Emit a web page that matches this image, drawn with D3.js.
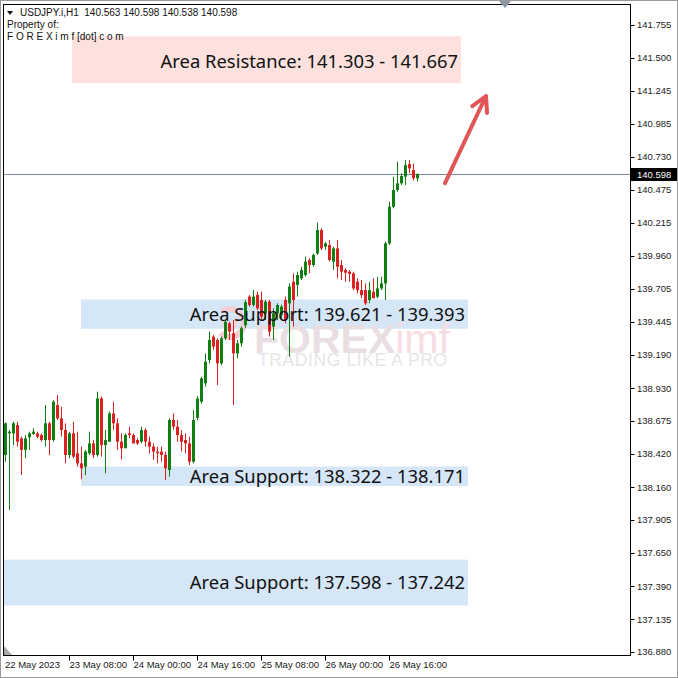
<!DOCTYPE html>
<html><head><meta charset="utf-8">
<script src="https://cdn.jsdelivr.net/npm/d3@7"></script>
<style>html,body{margin:0;padding:0;background:#fff}svg{display:block}</style>
</head><body><svg id="c" width="678" height="678"></svg>
<script>
// ---------- data ----------
const symbolHeader = "USDJPY.i,H1  140.563 140.598 140.538 140.598";
const startTime = "2023-05-22T16:00"; // first H1 bar
const open = [138.412,138.580,138.580,138.645,138.541,138.451,138.549,138.575,138.580,138.567,
138.528,138.658,138.528,138.800,138.697,138.606,138.412,138.580,138.425,138.347,
138.321,138.425,138.502,138.412,138.852,138.489,138.515,138.735,138.658,138.515,
138.464,138.580,138.567,138.528,138.515,138.606,138.515,138.477,138.438,138.438,
138.412,138.295,138.684,138.632,138.567,138.528,138.502,138.360,138.700,138.826,
138.969,139.150,139.332,139.306,139.124,139.319,139.435,139.358,139.202,139.280,
139.420,139.643,139.578,139.656,139.617,139.513,139.604,139.410,139.513,139.500,
139.617,139.591,139.759,139.734,139.785,139.811,139.928,139.889,139.979,140.161,
140.031,140.044,139.915,140.018,139.889,139.850,139.837,139.824,139.759,139.694,
139.694,139.617,139.681,139.642,139.707,139.746,140.057,140.342,140.472,140.524,
140.576,140.674,140.627,140.563];
const high = [138.665,138.606,138.671,138.671,138.554,138.567,138.593,138.619,138.593,138.580,
138.800,138.671,138.839,138.878,138.787,138.658,138.593,138.671,138.593,138.477,
138.451,138.593,138.528,138.904,138.865,138.606,138.749,138.826,138.697,138.580,
138.580,138.632,138.580,138.541,138.632,138.619,138.554,138.502,138.477,138.477,
138.438,138.697,138.735,138.684,138.606,138.580,138.554,138.761,138.870,139.020,
139.202,139.371,139.345,139.319,139.332,139.461,139.448,139.461,139.306,139.410,
139.620,139.656,139.695,139.682,139.682,139.617,139.617,139.552,139.591,139.580,
139.643,139.747,139.824,139.837,139.876,139.954,139.941,139.979,140.218,140.174,
140.070,140.083,140.031,140.083,139.928,139.863,139.850,139.837,139.785,139.772,
139.746,139.759,139.785,139.798,139.798,140.070,140.381,140.575,140.692,140.602,
140.705,140.705,140.679,140.598];
const low = [138.360,137.984,138.489,138.477,138.256,138.386,138.451,138.567,138.541,138.515,
138.477,138.412,138.515,138.684,138.554,138.347,138.386,138.386,138.321,138.223,
138.256,138.412,138.386,138.399,138.399,138.269,138.515,138.606,138.451,138.378,
138.464,138.541,138.502,138.489,138.502,138.477,138.425,138.373,138.347,138.360,
138.217,138.243,138.606,138.515,138.438,138.425,138.334,138.347,138.680,138.813,
138.943,139.124,139.228,138.956,139.111,139.306,139.306,138.800,139.163,139.254,
139.400,139.565,139.565,139.539,139.461,139.461,139.332,139.306,139.461,139.470,
139.435,139.176,139.410,139.643,139.772,139.798,139.824,139.876,139.967,140.005,
140.005,139.915,139.850,139.785,139.772,139.759,139.759,139.694,139.668,139.630,
139.578,139.591,139.630,139.630,139.694,139.617,140.044,140.329,140.459,140.511,
140.511,140.602,140.545,140.538];
const close = [138.658,138.593,138.658,138.515,138.451,138.541,138.580,138.593,138.554,138.528,
138.658,138.528,138.826,138.697,138.606,138.412,138.580,138.399,138.347,138.308,
138.438,138.502,138.412,138.852,138.489,138.528,138.735,138.658,138.515,138.464,
138.567,138.567,138.502,138.502,138.606,138.515,138.477,138.438,138.425,138.412,
138.308,138.684,138.632,138.567,138.515,138.502,138.360,138.684,138.850,139.008,
139.137,139.306,139.254,139.124,139.319,139.448,139.371,139.202,139.280,139.397,
139.600,139.578,139.643,139.552,139.487,139.604,139.371,139.513,139.578,139.565,
139.461,139.721,139.617,139.811,139.850,139.915,139.889,139.967,140.161,140.018,
140.057,139.928,140.018,139.876,139.837,139.829,139.819,139.707,139.694,139.655,
139.591,139.694,139.630,139.707,139.746,140.057,140.342,140.472,140.524,140.581,
140.666,140.640,140.563,140.598];

const priceTicks = [141.755,141.500,141.245,140.985,140.730,140.475,140.215,139.960,139.705,139.445,
139.190,138.930,138.675,138.420,138.160,137.905,137.650,137.390,137.135,136.880];
const timeTickDates = ["2023-05-22T16:00","2023-05-23T08:00","2023-05-24T00:00","2023-05-24T16:00",
"2023-05-25T08:00","2023-05-26T00:00","2023-05-26T16:00"];
const timeTickLabels = ["22 May 2023","23 May 08:00","24 May 00:00","24 May 16:00",
"25 May 08:00","26 May 00:00","26 May 16:00"];
const currentPrice = 140.598;

const zoneLabels = ["Area Resistance: 141.303 - 141.667","Area Support: 139.621 - 139.393",
"Area Support: 138.322 - 138.171","Area Support: 137.598 - 137.242"];
const zoneLow = [141.303,139.393,138.171,137.242];
const zoneHigh = [141.667,139.621,138.322,137.598];
const zoneStart = ["2023-05-23T08:45","2023-05-23T11:00","2023-05-23T11:00","2023-05-22T15:45"];
const zoneEnd = ["2023-05-27T10:00","2023-05-27T11:45","2023-05-27T11:45","2023-05-27T11:45"];
const zoneKind = ["resistance","support","support","support"];

const arrowFrom = {time:"2023-05-27T06:00", price:140.526};
const arrowTo = {time:"2023-05-27T16:15", price:141.203};

// ---------- layout ----------
const W = 678, H = 678;
const plot = {left:3.5, right:630.5, top:4.5, bottom:655.5};
const parse = d3.timeParse("%Y-%m-%dT%H:%M");
const t0 = parse(startTime);
const times = open.map((_, i) => d3.timeHour.offset(t0, i));
const lastT = times[times.length-1];

const x = d3.scaleTime().domain([t0, lastT]).range([5, 5 + 4*(times.length-1)]);
const y = d3.scaleLinear().domain([136.880, 141.755]).range([652, 25]);

const svg = d3.select("#c");
const FONT = "'Liberation Sans', Arial, sans-serif";

svg.append("rect").attr("x",0).attr("y",0).attr("width",W).attr("height",H).attr("fill","#fff");

const zones = zoneLabels.map((l,i)=>({label:l, lo:zoneLow[i], hi:zoneHigh[i],
  s:parse(zoneStart[i]), e:parse(zoneEnd[i]), kind:zoneKind[i]}));
const zoneFill = {resistance:"#fde1de", support:"#d5e6f7"};

// layers
const gZones = svg.append("g");
const gWm = svg.append("g");
const gPrice = svg.append("g");
const gCandles = svg.append("g");
const gZoneText = svg.append("g");

// zones
gZones.selectAll("rect").data(zones).join("rect")
  .attr("x", d=>Math.max(plot.left+0.5, x(d.s)))
  .attr("y", d=>y(d.hi))
  .attr("width", d=>x(d.e)-Math.max(plot.left+0.5, x(d.s)))
  .attr("height", d=>y(d.lo)-y(d.hi))
  .attr("fill", d=>zoneFill[d.kind]);

// watermark
gWm.append("path")
  .attr("d", d3.arc()({innerRadius:11, outerRadius:17, startAngle:-0.6, endAngle:3.9}))
  .attr("transform","translate(230,323)").attr("fill","#f4cdd4");
gWm.append("path")
  .attr("d", d3.arc()({innerRadius:3, outerRadius:8, startAngle:0.8, endAngle:5.2}))
  .attr("transform","translate(230,323)").attr("fill","#efd9de");
const wt = gWm.append("text").attr("x",254).attr("y",353)
  .attr("font-family",FONT).attr("font-weight","bold").attr("font-size",41);
wt.append("tspan").text("FOREX").attr("fill","#e9dfe2");
wt.append("tspan").text("imf").attr("fill","#f6dde2").attr("font-weight","normal");
gWm.append("text").attr("x",258).attr("y",366).text("TRADING LIKE A PRO")
  .attr("font-family",FONT).attr("font-size",17.5).attr("fill","#e6e6e6").attr("letter-spacing",0.6);

// current price line
gPrice.append("line").attr("x1",plot.left).attr("x2",plot.right)
  .attr("y1",Math.round(y(currentPrice))+0.5).attr("y2",Math.round(y(currentPrice))+0.5)
  .attr("stroke","#7d8a99").attr("stroke-width",1);

// candles
const bars = times.map((t,i)=>({t, o:open[i], h:high[i], l:low[i], c:close[i]}));
const GREEN = "#0f7f12", RED = "#dd2020";
gCandles.selectAll("line").data(bars).join("line")
  .attr("x1", d=>Math.round(x(d.t))+0.5).attr("x2", d=>Math.round(x(d.t))+0.5)
  .attr("y1", d=>y(d.h)).attr("y2", d=>y(d.l))
  .attr("stroke", d=>d.c>=d.o?GREEN:RED).attr("stroke-width",1);
gCandles.selectAll("rect").data(bars).join("rect")
  .attr("x", d=>Math.round(x(d.t))-1).attr("width",3)
  .attr("y", d=>y(Math.max(d.o,d.c)))
  .attr("height", d=>Math.max(1, Math.abs(y(d.o)-y(d.c))))
  .attr("fill", d=>d.c>=d.o?GREEN:RED);

// zone labels
gZoneText.selectAll("text").data(zones).join("text")
  .attr("x", d=>x(d.e)-3)
  .attr("y", d=>(y(d.hi)+y(d.lo))/2 + (d.kind==="resistance"?2:0))
  .attr("dy","0.36em")
  .attr("text-anchor","end")
  .attr("font-family","'Noto Sans', sans-serif")
  .attr("font-size",18.4)
  .attr("fill","#111")
  .text(d=>d.label);

// arrow
const ax1 = x(parse(arrowFrom.time)), ay1 = y(arrowFrom.price);
const ax2 = x(parse(arrowTo.time)), ay2 = y(arrowTo.price);
const ang = Math.atan2(ay1-ay2, ax1-ax2);
const hl = 17, ha = 0.5;
svg.append("path")
  .attr("d", `M${ax1},${ay1}L${ax2},${ay2}M${ax2+hl*Math.cos(ang+ha)},${ay2+hl*Math.sin(ang+ha)}L${ax2},${ay2}L${ax2+hl*Math.cos(ang-ha)},${ay2+hl*Math.sin(ang-ha)}`)
  .attr("fill","none").attr("stroke","#e05555").attr("stroke-width",4)
  .attr("stroke-linecap","round").attr("stroke-linejoin","round");

// plot frame
svg.append("rect").attr("x",plot.left).attr("y",plot.top)
  .attr("width",plot.right-plot.left).attr("height",plot.bottom-plot.top)
  .attr("fill","none").attr("stroke","#000").attr("stroke-width",1);

// y axis
const ya = svg.append("g").attr("font-family",FONT).attr("font-size",9.5).attr("fill","#1a1a1a");
ya.selectAll("line").data(priceTicks).join("line")
  .attr("x1",plot.right).attr("x2",plot.right+4)
  .attr("y1",d=>Math.round(y(d))+0.5).attr("y2",d=>Math.round(y(d))+0.5)
  .attr("stroke","#000");
ya.selectAll("text").data(priceTicks).join("text")
  .attr("x",637).attr("y",d=>y(d)).attr("dy","0.35em")
  .text(d=>d3.format(".3f")(d));
// current price tag
svg.append("rect").attr("x",631).attr("y",Math.round(y(currentPrice))-6)
  .attr("width",47).attr("height",13).attr("fill","#000");
svg.append("text").attr("x",637).attr("y",y(currentPrice)+0.5).attr("dy","0.35em")
  .attr("font-family",FONT).attr("font-size",9.5).attr("fill","#fff")
  .text(d3.format(".3f")(currentPrice));

// x axis
const xa = svg.append("g").attr("font-family",FONT).attr("font-size",9.5).attr("fill","#1a1a1a");
const tt = timeTickDates.map((d,i)=>({t:parse(d), label:timeTickLabels[i]}));
xa.selectAll("line").data(tt.slice(1)).join("line")
  .attr("x1",d=>Math.round(x(d.t))+0.5).attr("x2",d=>Math.round(x(d.t))+0.5)
  .attr("y1",plot.bottom).attr("y2",plot.bottom+5).attr("stroke","#000");
xa.selectAll("text").data(tt).join("text")
  .attr("x",(d,i)=>i===0?5:Math.round(x(d.t))+0.5)
  .attr("y",668).text(d=>d.label);

// header
const hd = svg.append("g").attr("font-family",FONT).attr("font-size",10).attr("fill","#111");
hd.append("path").attr("d","M7,11L13,11L10,15Z").attr("fill","#111");
hd.append("text").attr("x",20).attr("y",16).text(symbolHeader).style("white-space","pre");
hd.append("text").attr("x",7).attr("y",28).text("Property of:");
hd.append("text").attr("x",7).attr("y",40).text("F O R E X i m f [dot] c o m");

// chart shift marker & corner marker
svg.append("path").attr("d","M499,1L511,1L505,8Z").attr("fill","#8a96a3");
svg.append("path").attr("d","M4,646L4,655L12,655Z").attr("fill","#a8a8a8");

// outer border
svg.append("rect").attr("x",0.5).attr("y",0.5).attr("width",W-1).attr("height",H-1)
  .attr("fill","none").attr("stroke","#9a9a9a");
</script></body></html>
